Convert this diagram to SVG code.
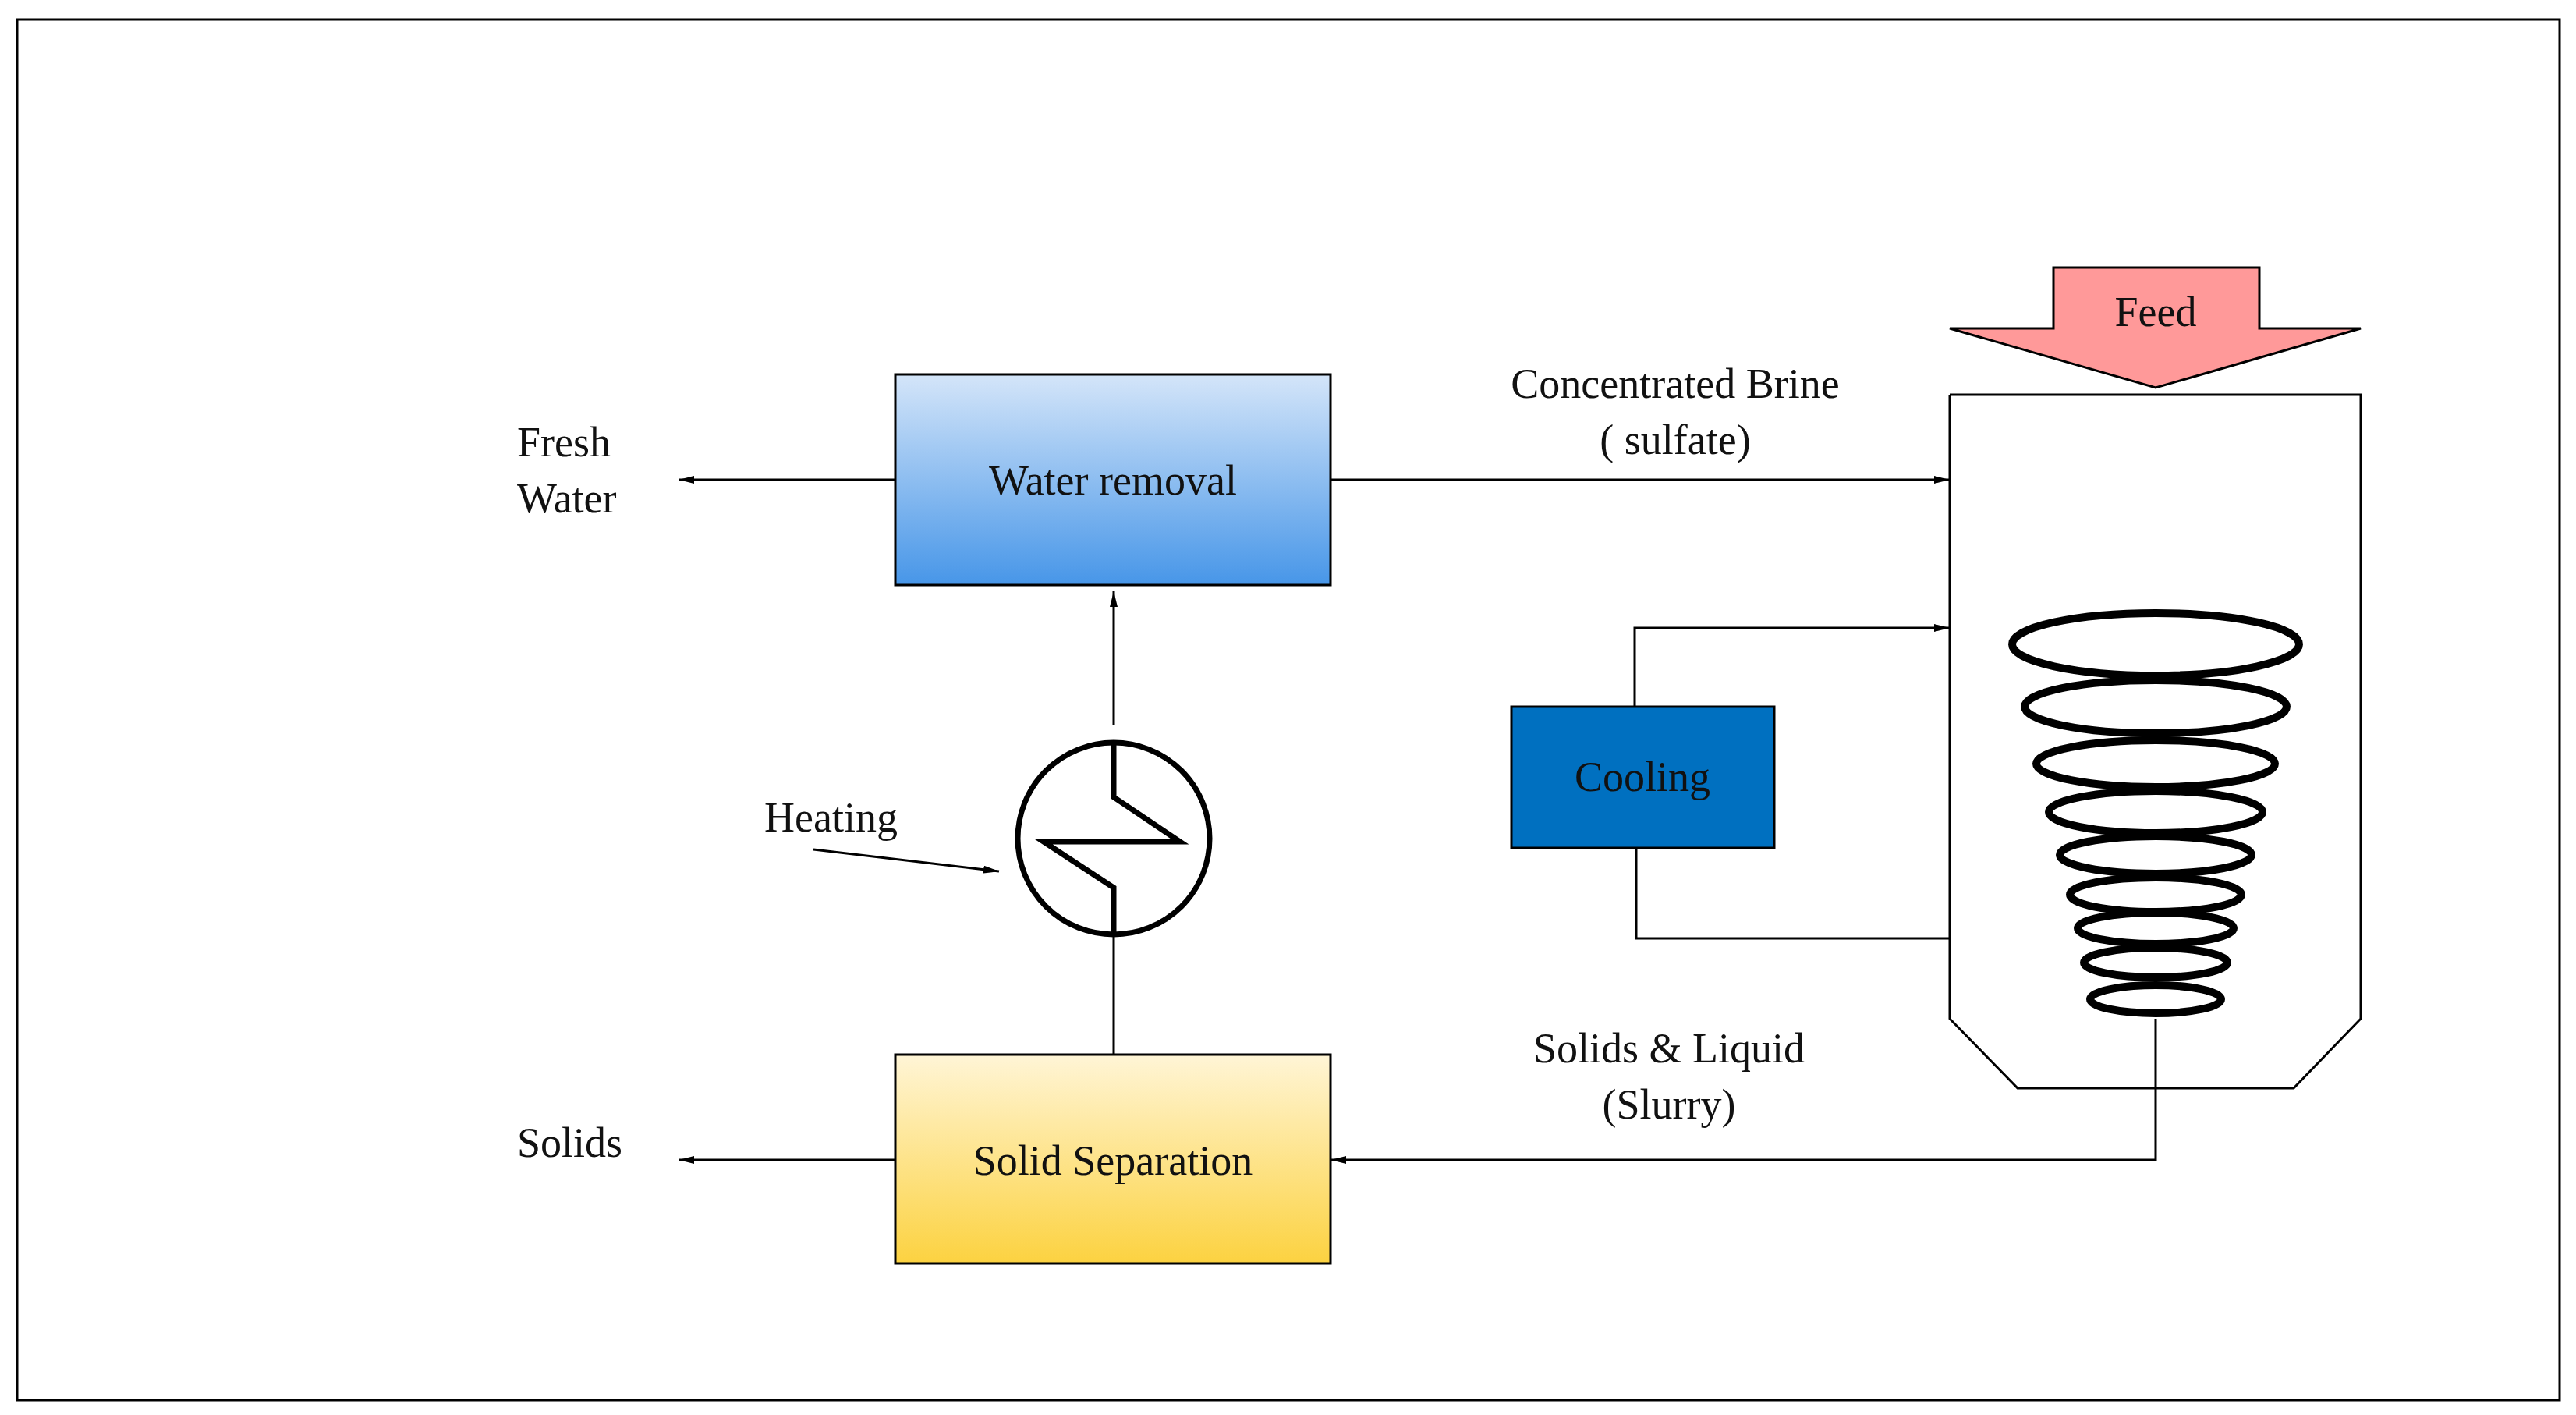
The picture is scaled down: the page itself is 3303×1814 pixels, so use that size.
<svg xmlns="http://www.w3.org/2000/svg" width="3303" height="1814" viewBox="0 0 3303 1814">
<style>
text{font-family:"Liberation Serif","Times New Roman",serif;font-size:54px;fill:#111}
.ln{stroke:#000;stroke-width:3;fill:none}
.bx{stroke:#000;stroke-width:3}
.coil{fill:none;stroke:#000;stroke-width:10}
</style>
<defs>
<linearGradient id="gb" x1="0" y1="0" x2="0" y2="1"><stop offset="0" stop-color="#d4e5f9"/><stop offset="1" stop-color="#4796e8"/></linearGradient>
<linearGradient id="gy" x1="0" y1="0" x2="0" y2="1"><stop offset="0" stop-color="#fff5d6"/><stop offset="1" stop-color="#fcd240"/></linearGradient>
<marker id="ah" markerWidth="10" markerHeight="8" refX="10" refY="4" orient="auto" markerUnits="userSpaceOnUse"><path d="M0,0 L10,4 L0,8 z" fill="#000"/></marker>
<marker id="ah2" markerWidth="20" markerHeight="10" refX="20" refY="5" orient="auto" markerUnits="userSpaceOnUse"><path d="M0,0 L20,5 L0,10 z" fill="#000"/></marker>
</defs>
<rect x="0" y="0" width="3303" height="1814" fill="#fff"/>
<rect x="22" y="25" width="3260" height="1770" fill="none" stroke="#000" stroke-width="3"/>
<g id="connectors">
<line class="ln" x1="1148" y1="615" x2="870" y2="615" marker-end="url(#ah2)"/>
<line class="ln" x1="1148" y1="1487" x2="870" y2="1487" marker-end="url(#ah2)"/>
<line class="ln" x1="1706" y1="615" x2="2500" y2="615" marker-end="url(#ah2)"/>
<line class="ln" x1="1428" y1="1352" x2="1428" y2="1198"/>
<line class="ln" x1="1428" y1="930" x2="1428" y2="758" marker-end="url(#ah2)"/>
<line class="ln" x1="1043" y1="1089" x2="1281" y2="1117" marker-end="url(#ah2)"/>
<polyline class="ln" points="2096,906 2096,805 2500,805" marker-end="url(#ah2)"/>
<polyline class="ln" points="2098,1087 2098,1203 2500,1203"/>
<polyline class="ln" points="2764,1306 2764,1487 1706,1487" marker-end="url(#ah2)"/>
</g>
<g id="water-removal">
<rect class="bx" x="1148" y="480" width="558" height="270" fill="url(#gb)"/>
<text x="1427" y="634" text-anchor="middle">Water removal</text>
</g>
<g id="solid-separation">
<rect class="bx" x="1148" y="1352" width="558" height="268" fill="url(#gy)"/>
<text x="1427" y="1506" text-anchor="middle">Solid Separation</text>
</g>
<g id="cooling">
<rect class="bx" x="1938" y="906" width="337" height="181" fill="#0070c0"/>
<text x="2106" y="1014" text-anchor="middle">Cooling</text>
</g>
<g id="heater">
<circle cx="1428" cy="1075" r="123" fill="none" stroke="#000" stroke-width="7"/>
<polyline points="1428,952 1428,1022 1513,1079 1338,1079 1428,1138 1428,1198" fill="none" stroke="#000" stroke-width="7"/>
</g>
<g id="vessel">
<polyline points="2500,506 3027,506 3027,1306 2941,1395 2587,1395 2500,1306 2500,506" fill="none" stroke="#000" stroke-width="3"/>
<ellipse class="coil" cx="2764" cy="826" rx="184" ry="40"/>
<ellipse class="coil" cx="2764" cy="906" rx="168" ry="34"/>
<ellipse class="coil" cx="2764" cy="979" rx="153" ry="30"/>
<ellipse class="coil" cx="2764" cy="1041" rx="137" ry="27"/>
<ellipse class="coil" cx="2764" cy="1096" rx="123" ry="24"/>
<ellipse class="coil" cx="2764" cy="1147" rx="110" ry="22"/>
<ellipse class="coil" cx="2764" cy="1190" rx="100" ry="20"/>
<ellipse class="coil" cx="2764" cy="1234" rx="92" ry="19"/>
<ellipse class="coil" cx="2764" cy="1281" rx="84" ry="18"/>
</g>
<g id="feed">
<polygon points="2633,343 2897,343 2897,421 3027,421 2764,497 2500,421 2633,421" fill="#ff9999" stroke="#000" stroke-width="3"/>
<text x="2764" y="418" text-anchor="middle">Feed</text>
</g>
<g id="labels">
<text x="663" y="585">Fresh</text>
<text x="663" y="657">Water</text>
<text x="663" y="1483">Solids</text>
<text x="980" y="1066">Heating</text>
<text x="2148" y="510" text-anchor="middle">Concentrated Brine</text>
<text x="2148" y="582" text-anchor="middle">( sulfate)</text>
<text x="2140" y="1362" text-anchor="middle">Solids &amp; Liquid</text>
<text x="2140" y="1434" text-anchor="middle">(Slurry)</text>
</g>
</svg>
